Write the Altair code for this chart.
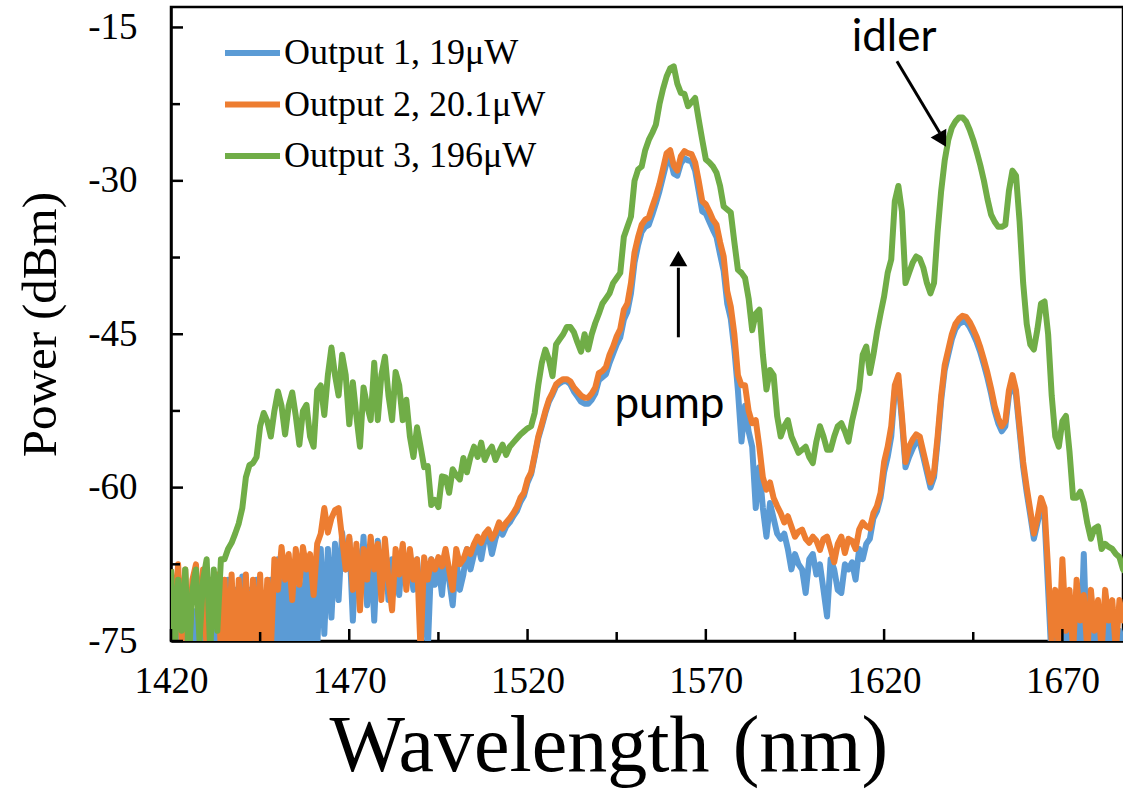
import altair as alt
import pandas as pd

# ---------------- data ----------------
wavelength = list(range(1420, 1689))  # nm, 1 nm grid

out1 = [  # Output 1, 19uW (blue)
    -70, -76, -71, -77, -70, -77, -72, -76, -70, -77,
    -71, -77, -69, -77, -70, -76, -69, -77, -70, -76,
    -68.7, -77, -70, -76, -69, -77, -70.5, -77, -69, -77,
    -67, -77, -68, -76, -67.5, -77, -69, -76, -67, -77,
    -68, -76, -66, -74.3, -66, -72.7, -65.5, -71, -64.4, -68,
    -65, -73, -66, -70, -64.8, -71.5, -66, -73, -65.2, -69,
    -66, -71, -67, -68, -70.5, -66, -69, -67.5, -70, -67,
    -71, -68.5, -76, -67, -69.5, -67.5, -70.5, -66.5, -69, -71.5,
    -67, -70, -68.5, -66, -68, -66.5, -65.5, -67, -65, -64.6,
    -66.5, -65, -64, -64.6, -63.8, -63.4, -62.8, -62.3, -61.4, -60.8,
    -59.5, -58.7, -57, -55.2, -54, -52.7, -51.6, -50.9, -50.1, -49.8,
    -49.6, -49.6, -49.9, -50.6, -51.1, -51.6, -51.8, -51.8, -51.4, -50.8,
    -49.5, -49.2, -48.9, -47.8, -46.9, -46, -45.3, -43.6, -42.8, -41,
    -38, -36.3, -35, -34.5, -34.3, -33.3, -32.2, -31, -29.6, -28.2,
    -27.8, -29.3, -29.5, -28.3, -27.8, -28, -28.1, -29, -31, -33,
    -33.2, -34, -34.8, -35.5, -37.2, -38.8, -42, -43.5, -46.5, -50.5,
    -55.5, -52, -54.5, -56, -62, -58, -62, -64.8, -61.5, -63,
    -64.5, -65, -64.5, -66, -68, -66.5, -67.5, -68, -70.3, -67,
    -66.5, -68.5, -67.5, -70, -72.6, -67, -68, -70, -70.3, -67.5,
    -68, -67.3, -69, -66, -67, -65.5, -65, -63, -62.3, -61,
    -58.5, -57, -55, -50.5, -49.5, -53.5, -58, -57, -56.2, -55.5,
    -55.6, -57, -58.5, -60, -59, -55.5, -51.5, -48.5, -47, -45.5,
    -44.5, -44, -43.8, -43.8, -44.3, -45, -45.8, -46.8, -48, -49.3,
    -50.8, -52.5, -53.7, -54.5, -54, -51, -49.5, -51, -54.5, -58,
    -60.5, -62.7, -65, -63.5, -62, -63, -70, -77, -73, -77,
    -74, -77, -73.5, -77, -71, -77, -66.5, -77, -73, -77,
    -74, -76, -72, -77, -73, -77, -74, -77, -73,
]

out2 = [  # Output 2, 20.1uW (orange)
    -68, -73, -67.5, -75, -68, -76, -69, -67.5, -74, -68,
    -76, -69, -72, -68.5, -76, -69, -76, -68.5, -77, -69,
    -76, -68.5, -77, -69, -75, -68.5, -77, -69, -76, -67,
    -70, -65.8, -69, -66.5, -71, -66, -69.5, -65.8, -68, -66.5,
    -70.5, -65.5, -64.5, -62, -64.4, -63, -62.2, -62, -65, -68,
    -64.8, -70, -65.5, -72, -66, -69, -64.8, -68, -65.5, -71,
    -65, -69, -72, -66, -68.5, -65.5, -70, -66, -69, -67,
    -76, -66.8, -69, -67, -68, -66.8, -67.7, -66, -68, -70,
    -66, -67.5, -67, -66, -66.5, -65.5, -64.8, -65.4, -64.5, -64.1,
    -65, -64.4, -63.4, -64, -63.4, -63, -62.5, -61.9, -61, -60.5,
    -59.2, -58.5, -56.8, -55, -53.8, -52.5, -51.4, -50.7, -49.9, -49.6,
    -49.4, -49.4, -49.6, -50.2, -50.6, -51, -51.2, -51.2, -50.8, -50.2,
    -48.8, -48.6, -48.2, -47, -46.2, -45.2, -44.5, -42.6, -42, -40,
    -37, -35.5, -34.3, -33.8, -33.6, -32.5, -31.5, -30.3, -28.8, -27.3,
    -27, -28.5, -29, -27.6, -27.1, -27.3, -27.4, -28.2, -30, -32,
    -32.3, -33, -33.8, -34.3, -36, -37.4, -40.8, -42.3, -45, -49,
    -50, -50, -52.5, -53.7, -53.4, -56, -59, -60.2, -59.5, -61,
    -61.8, -62.5, -63.4, -62.8, -63.8, -64.8, -64.3, -64.1, -65, -65.4,
    -64.8, -65.2, -66.1, -65, -64.8, -66, -67.3, -65.5, -64.8, -66.4,
    -65, -65.2, -66, -64.1, -63.4, -63.8, -64, -62.5, -61.8, -60.5,
    -57.5, -56, -54, -50, -49, -53, -57.5, -56, -55.3, -54.8,
    -55, -56.5, -58, -59.5, -58.5, -55, -51, -48, -46.5, -45,
    -44, -43.5, -43.2, -43.3, -43.8, -44.5, -45.3, -46.3, -47.5, -48.8,
    -50.3, -52, -53.2, -54, -53.5, -50.5, -49, -50.5, -54, -57.5,
    -60, -62.2, -64.5, -63, -61, -62, -68, -75, -70, -76,
    -67, -74, -70, -76, -69, -73, -70.5, -76, -70, -74,
    -71, -76, -70, -73, -71, -76, -71, -73, -71,
]

out3 = [  # Output 3, 196uW (green)
    -68, -76, -69, -74, -68, -77, -70, -68, -75, -69,
    -67, -76, -68, -74, -67, -67, -66, -65.4, -64.5, -63.5,
    -62, -59, -57.8, -57.6, -57, -54, -52.7, -53.5, -55, -52.5,
    -50.6, -52, -54.8, -52, -50.7, -53, -55.8, -52.5, -51.9, -55,
    -56, -50.5, -50, -52.9, -49, -46.3, -49, -51, -47, -49,
    -53.8, -49.7, -53, -56, -50.2, -52, -53.4, -47.8, -53.4, -49,
    -47.2, -51, -53.4, -48.7, -50, -53.4, -51.4, -55, -57, -54.1,
    -56, -58, -57.9, -61.7, -61.2, -61.9, -58.9, -59, -60.5, -58.2,
    -58.8, -59.2, -57.1, -58.5, -57, -56, -57, -55.6, -57.3, -56.5,
    -56, -57.3, -56.5, -55.8, -56.8, -56, -55.6, -55.2, -54.8, -54.5,
    -54.2, -54, -52.7, -50, -47.8, -46.5, -47.5, -49.1, -46, -45.5,
    -45, -44.3, -44.3, -44.8, -45.8, -46.7, -45, -46.5, -45, -43.9,
    -43, -42, -41.5, -41, -40, -39.5, -39, -35.5, -34.5, -33.5,
    -30, -28.9, -28.6, -27, -26, -25.3, -24.5, -22.5, -21, -19.8,
    -19, -18.8, -20.5, -21.4, -21.5, -22.7, -22.3, -21.9, -24, -26,
    -27.9, -28.2, -28.6, -29.2, -30.5, -32.5, -32.8, -33.1, -36, -38.7,
    -39, -39.5, -41.5, -44.6, -43, -42.6, -47, -50.4, -48.5, -49,
    -53, -55, -54, -53.4, -55, -55.8, -56.6, -56.3, -56, -57,
    -57.6, -55.5, -54, -55, -56.3, -56.3, -55, -54, -53.7, -54.5,
    -55.5, -53.5, -52, -50.4, -47, -46.2, -48.8, -47, -44.8, -43,
    -41.3, -39, -37.7, -32, -30.5, -33, -40, -39, -38, -37.4,
    -37.6, -38.5, -40, -41, -40, -35, -31, -28, -26, -24.8,
    -24.2, -23.8, -23.8, -24.2, -25, -26, -27.2, -28.5, -30, -31.8,
    -33.3, -34, -34.5, -34.5, -34.3, -31, -29, -29.5, -34, -40,
    -44, -46, -46.5, -44.5, -42, -41.8, -45, -51, -55, -56,
    -53.5, -53, -56.5, -61, -61, -60.4, -61.5, -63.5, -65, -64,
    -63.8, -66, -65.5, -65.8, -66, -66.5, -66.8, -68, -68.3,
]

series_names = ["Output 1, 19μW", "Output 2, 20.1μW", "Output 3,  196μW"]
series_colors = ["#5B9BD5", "#ED7D31", "#70AD47"]

x_label_values = [1420, 1470, 1520, 1570, 1620, 1670]
x_minor_values = [1445, 1495, 1545, 1595, 1645]
y_label_values = [-75, -60, -45, -30, -15]
y_minor_values = [-67.5, -52.5, -37.5, -22.5]

# axis titles, split in two words each (placed under / beside the plot)
x_title_words = ["Wavelength", "(nm)"]
x_title_at = [1517.6, 1599.2]
y_title_words = ["Power", "(dBm)"]
y_title_at = [-50.85, -37.3]

# annotations (data units)
arrow_x = [1562.3, 1623.6]
arrow_y = [-45.3, -18.3]
arrow_x2 = [1562.3, 1635.6]
arrow_y2 = [-38.5, -25.3]
head_x = [1562.3, 1636.3]
head_y = [-37.6, -26.0]
head_angle = [0, 151]
note_text = ["pump", "idler"]
note_x = [1559.8, 1622.8]
note_y = [-53.2, -17.3]

# ---------------- build ----------------
rows = []
for name, vals in zip(series_names, [out1, out2, out3]):
    for w, v in zip(wavelength, vals):
        rows.append({"wl": w, "p": v, "series": name})
df = pd.DataFrame(rows)

X_DOMAIN = [1420, 1687]
Y_DOMAIN = [-75, -13]
xs = alt.Scale(domain=X_DOMAIN, nice=False, zero=False)
ys = alt.Scale(domain=Y_DOMAIN, nice=False, zero=False)
W, H = 952, 634

serif = "Liberation Serif"

x_axis = alt.Axis(values=x_label_values, format="d", labelPadding=22, labelBaseline="top")
y_axis = alt.Axis(values=y_label_values, labelPadding=34, labelExpr="'-' + abs(datum.value)")


def X(field="wl"):
    return alt.X(f"{field}:Q", scale=xs, axis=x_axis, title=None)


def Y(field="p"):
    return alt.Y(f"{field}:Q", scale=ys, axis=y_axis, title=None)


lines = alt.Chart(df).mark_line(strokeWidth=6, clip=True, strokeJoin="round").encode(
    x=X(), y=Y(),
    color=alt.Color("series:N", scale=alt.Scale(domain=series_names, range=series_colors),
                    legend=alt.Legend(title=None, orient="none", legendX=51, legendY=15.5,
                                      symbolType="stroke", symbolSize=3025, symbolStrokeWidth=6,
                                      labelFont=serif, labelFontSize=36, labelColor="black",
                                      rowPadding=2.5, labelOffset=1, padding=0, labelLimit=500)),
)

xt_major = alt.Chart(pd.DataFrame({"wl": x_label_values})).mark_rule(color="black", strokeWidth=2.5).encode(
    x=X(), y=alt.value(H - 12), y2=alt.value(H))
xt_minor = alt.Chart(pd.DataFrame({"wl": x_minor_values})).mark_rule(color="black", strokeWidth=2.5).encode(
    x=X(), y=alt.value(H - 9), y2=alt.value(H))
yt_major = alt.Chart(pd.DataFrame({"p": y_label_values})).mark_rule(color="black", strokeWidth=2.5).encode(
    y=Y(), x=alt.value(0), x2=alt.value(12))
yt_minor = alt.Chart(pd.DataFrame({"p": y_minor_values})).mark_rule(color="black", strokeWidth=2.5).encode(
    y=Y(), x=alt.value(0), x2=alt.value(9))

arrows = alt.Chart(pd.DataFrame({"wl": arrow_x, "p": arrow_y, "wl2": arrow_x2, "p2": arrow_y2})).mark_rule(
    color="black", strokeWidth=3).encode(
    x=X(), y=Y(), x2="wl2:Q", y2="p2:Q")
heads = alt.Chart(pd.DataFrame({"wl": head_x, "p": head_y, "ang": head_angle})).mark_point(
    shape="triangle-up", filled=True, color="black", size=320, opacity=1).encode(
    x=X(), y=Y(), angle=alt.Angle("ang:Q", scale=None))
notes = alt.Chart(pd.DataFrame({"wl": note_x, "p": note_y, "t": note_text})).mark_text(
    font="Lato", fontSize=44, color="black", align="center", baseline="alphabetic").encode(
    x=X(), y=Y(), text="t:N")

main = alt.layer(lines, xt_major, xt_minor, yt_major, yt_minor, arrows, heads, notes)

# axis titles drawn as labels of extra (independent) axes
x_expr = f"datum.value < 1560 ? '{x_title_words[0]}' : '{x_title_words[1]}'"
y_expr = f"datum.value < -45 ? '{y_title_words[0]}' : '{y_title_words[1]}'"

xtitle = alt.Chart(pd.DataFrame({"wl2": x_title_at})).mark_point(opacity=0).encode(
    x=alt.X("wl2:Q", scale=alt.Scale(domain=X_DOMAIN, nice=False, zero=False), title=None,
            axis=alt.Axis(orient="bottom", values=x_title_at, labelExpr=x_expr,
                          labelFontSize=80, labelPadding=129, labelBaseline="alphabetic",
                          labelAlign="center", labelLimit=2000, domain=False)),
)
ytitle = alt.Chart(pd.DataFrame({"p2": y_title_at})).mark_point(opacity=0).encode(
    y=alt.Y("p2:Q", scale=alt.Scale(domain=Y_DOMAIN, nice=False, zero=False), title=None,
            axis=alt.Axis(orient="left", values=y_title_at, labelExpr=y_expr,
                          labelFontSize=49, labelPadding=131, labelAngle=270,
                          labelBaseline="middle", labelAlign="center", labelLimit=2000,
                          domain=False)),
)

chart = alt.layer(main, xtitle, ytitle).resolve_scale(
    x="independent", y="independent"
).resolve_axis(
    x="independent", y="independent"
).properties(
    width=W, height=H,
    autosize=alt.AutoSizeParams(type="none"),
    padding={"left": 171, "top": 7, "right": 0, "bottom": 148},
    background="white",
).configure_view(
    stroke="black", strokeWidth=2.5
).configure_axis(
    grid=False, ticks=False, tickSize=0,
    labelFont=serif, labelFontSize=37, labelColor="black",
    labelFlush=False, labelOverlap=False,
    domainColor="black", domainWidth=2.5,
)

chart.save("out.html", embed_options={"renderer": "svg", "actions": False})
